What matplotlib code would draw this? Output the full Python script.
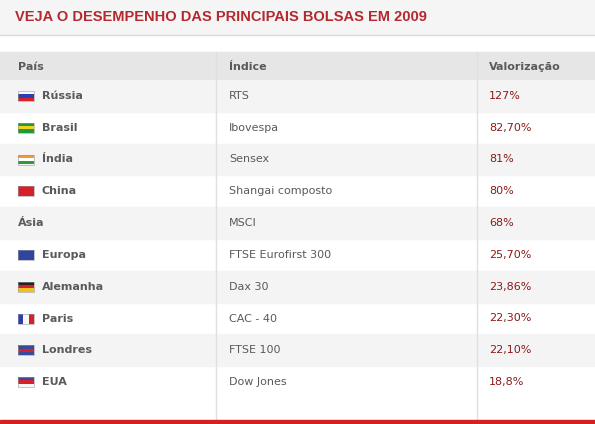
import matplotlib
matplotlib.use("Agg")
import matplotlib.pyplot as plt
from matplotlib.patches import Rectangle

title = "VEJA O DESEMPENHO DAS PRINCIPAIS BOLSAS EM 2009"
headers = ["País", "Índice", "Valorização"]
countries = ["Rússia", "Brasil", "Índia", "China", "Ásia", "Europa",
             "Alemanha", "Paris", "Londres", "EUA"]
indices = ["RTS", "Ibovespa", "Sensex", "Shangai composto", "MSCI",
           "FTSE Eurofirst 300", "Dax 30", "CAC - 40", "FTSE 100", "Dow Jones"]
values = ["127%", "82,70%", "81%", "80%", "68%", "25,70%", "23,86%",
          "22,30%", "22,10%", "18,8%"]

# flag stripes (horizontal, top to bottom); None = no flag
flags = [
    ["#f8f8f8", "#2b3fb5", "#d8202a"],
    ["#1f9a3a", "#f2d21a", "#1f9a3a"],
    ["#f39a2a", "#ffffff", "#2e9a3a"],
    ["#d8202a", "#d8202a", "#d8202a"],
    None,
    ["#2f45a0", "#2f45a0", "#2f45a0"],
    ["#222222", "#d8202a", "#f2c21a"],
    "vertical",
    ["#3a4a9a", "#d8202a", "#3a4a9a"],
    ["#3a4aa0", "#d8202a", "#f8f8f8"],
]
paris_colors = ["#2b3fb5", "#f8f8f8", "#d8202a"]

fig = plt.figure(figsize=(5.95, 4.24), dpi=100)
ax = fig.add_axes([0, 0, 1, 1])
ax.set_xlim(0, 595)
ax.set_ylim(424, 0)
ax.axis("off")

gray_txt = "#5a5a5a"
red_title = "#b5282e"
red_val = "#8b1a1a"

# title bar
ax.add_patch(Rectangle((0, 0), 595, 34, color="#f5f5f5", zorder=0))
ax.plot([0, 595], [34.5, 34.5], color="#d8d8d8", lw=1)
ax.text(15, 17, title, color=red_title, fontsize=10.5, fontweight="bold",
        family="Liberation Sans", va="center", ha="left")

# header row
ax.add_patch(Rectangle((0, 52), 595, 28, color="#e6e6e6", zorder=0))
col_x = [18, 229, 489]
for x, h in zip(col_x, headers):
    ax.text(x, 67, h, color=gray_txt, fontsize=8, fontweight="bold", va="center")

row_h = 31.8
top = 80
for i, (c, ind, v) in enumerate(zip(countries, indices, values)):
    y0 = top + i * row_h
    yc = y0 + row_h / 2
    if i % 2 == 0:
        ax.add_patch(Rectangle((0, y0), 595, row_h, color="#f4f4f4", zorder=0))
    fl = flags[i]
    if fl == "vertical":
        for j, col in enumerate(paris_colors):
            ax.add_patch(Rectangle((18 + j * 16 / 3, yc - 5), 16 / 3, 10,
                                   facecolor=col, lw=0, zorder=2))
    elif fl is not None:
        for j, col in enumerate(fl):
            ax.add_patch(Rectangle((18, yc - 5 + j * 10 / 3), 16, 10 / 3,
                                   facecolor=col, lw=0, zorder=2))
    if fl is not None:
        ax.add_patch(Rectangle((18, yc - 5), 16, 10, fill=False,
                               edgecolor="#999999", lw=0.4, zorder=3))
    name_x = 42 if fl is not None else 18
    ax.text(name_x, yc, c, color=gray_txt, fontsize=8, fontweight="bold", va="center")
    ax.text(229, yc, ind, color=gray_txt, fontsize=8, va="center")
    ax.text(489, yc, v, color=red_val, fontsize=8, va="center")

# column separators
for x in [215.5, 476.5]:
    ax.plot([x, x], [52, 420], color="#e0e0e0", lw=1)

# bottom red line
ax.add_patch(Rectangle((0, 420), 595, 4, color="#d81e1e", zorder=3))

fig.savefig("out.png", dpi=100)
